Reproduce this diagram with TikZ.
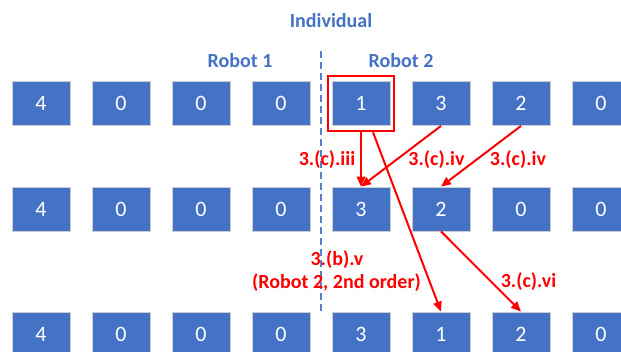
\documentclass[tikz,border=0pt]{standalone}
\usepackage{fontspec}
\setmainfont{Carlito}
\usetikzlibrary{arrows.meta}
\definecolor{cellblue}{HTML}{4472C4}
\definecolor{celledge}{HTML}{C9CDD4}
\definecolor{hdrblue}{HTML}{4472C4}
\definecolor{divblue}{HTML}{5A80C8}
\definecolor{stepred}{HTML}{FF0000}
\tikzset{
  cell/.style={rectangle, fill=cellblue, draw=celledge, line width=0.8pt,
    minimum width=58pt, minimum height=44pt, inner sep=0pt,
    text=white, font=\fontsize{22}{24}\selectfont},
  hdr/.style={text=hdrblue, font=\fontsize{20}{22}\selectfont\bfseries},
  steplabel/.style={text=stepred, font=\fontsize{20}{22}\selectfont\bfseries, align=center},
  move/.style={draw=stepred, line width=2pt, -{Triangle[length=10pt,width=8.5pt]}},
  selframe/.style={rectangle, draw=stepred, line width=2.6pt,
    minimum width=66pt, minimum height=55pt, inner sep=0pt}
}
\begin{document}
\begin{tikzpicture}[x=1pt,y=-1pt]
\useasboundingbox (0,0) rectangle (621,352);

% divider between the two robots' segments
\draw[divblue, line width=1.2pt, dash pattern=on 7pt off 4pt] (321,51) -- (321,312);

% headings
\node[hdr] (ind) at (331,21) {Individual};
\node[hdr] (rb1) at (240,61) {Robot 1};
\node[hdr] (rb2) at (401,61) {Robot 2};

% three rows of the chromosome
\foreach \v [count=\i] in {4,0,0,0,1,3,2,0}
  \node[cell] (a\i) at ({41+80*(\i-1)},103.5) {\v};
\foreach \v [count=\i] in {4,0,0,0,3,2,0,0}
  \node[cell] (b\i) at ({41+80*(\i-1)},209) {\v};
\foreach \v [count=\i] in {4,0,0,0,3,1,2,0}
  \node[cell] (c\i) at ({41+80*(\i-1)},334) {\v};

% selected gene
\node[selframe] (sel) at (a5) {};

% moves
\draw[move] (sel.south) -- (b5.north);
\draw[move] (a6.south) -- (b5.north);
\draw[move] (a7.south) -- (b6.north);
\draw[move] ([xshift=12pt]sel.south) -- (c6.north);
\draw[move] (b6.south) -- (c7.north);

% step labels
\node[steplabel] (l1) at (327,160) {3.(c).iii};
\node[steplabel] (l2) at (436.5,160) {3.(c).iv};
\node[steplabel] (l3) at (518,160) {3.(c).iv};
\node[steplabel] (l4) at (337,260) {3.(b).v};
\node[steplabel] (l5) at (336.5,283) {(Robot 2, 2nd order)};
\node[steplabel] (l6) at (528.5,282) {3.(c).vi};
\end{tikzpicture}
\end{document}
